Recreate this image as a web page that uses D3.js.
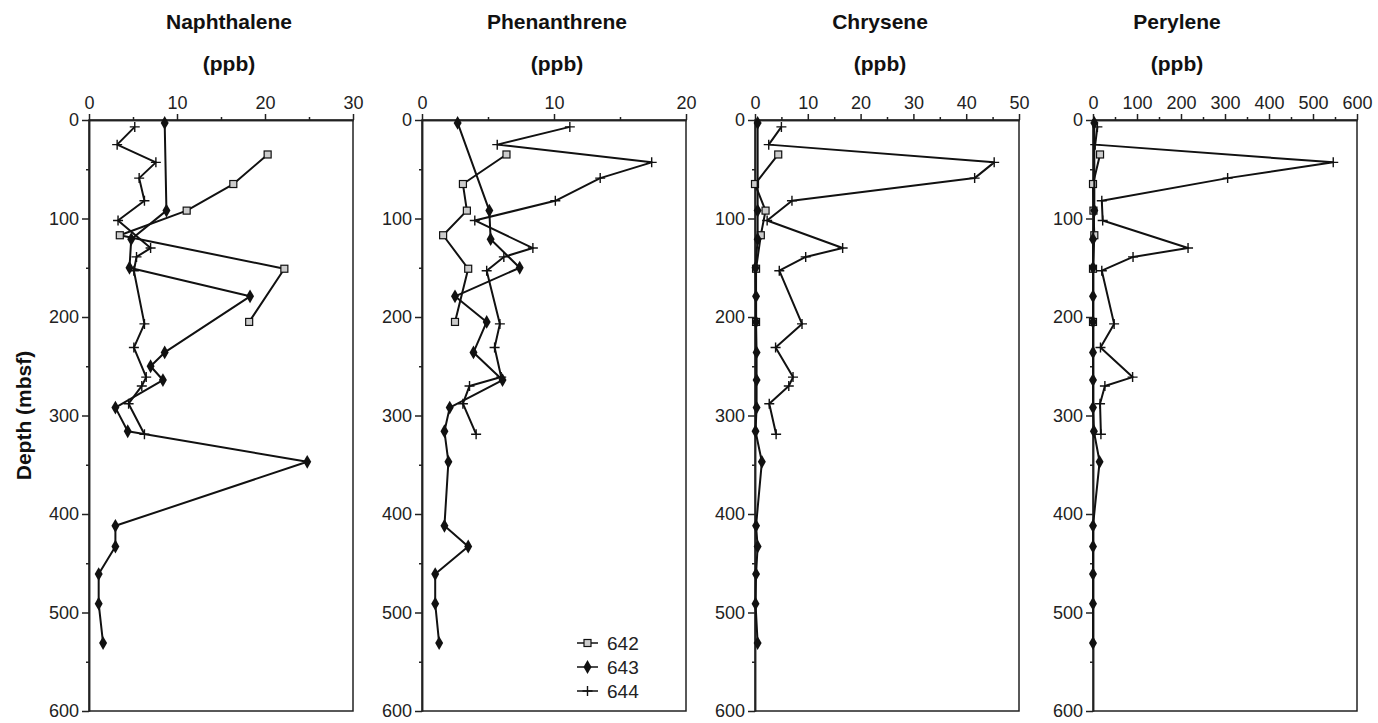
<!DOCTYPE html>
<html>
<head>
<meta charset="utf-8">
<script src="https://cdn.jsdelivr.net/npm/d3@7"></script>
<style>
  body { margin: 0; background: #fff; }
  svg { font-family: "Liberation Sans", Arial, Helvetica, sans-serif; }
  .axis text { font-size: 18px; fill: #222; }
  .axis path, .axis line { stroke: #222; stroke-width: 1.5; }
  .title { font-size: 21px; font-weight: bold; text-anchor: middle; fill: #111; }
</style>
</head>
<body>
<svg id="canvas" width="1378" height="723"></svg>
<script>
// sample depths (mbsf) for each site
const depth642 = [35, 65, 92, 117, 151, 205]
const depth643 = [3, 92, 121, 150, 179, 205, 236, 250, 264, 292, 316, 347, 412, 433, 461, 491, 531]
const depth644 = [7, 25, 43, 59, 82, 102, 130, 139, 153, 207, 231, 261, 270, 288, 319]

const sites = ['642', '643', '644']
const compounds = ['Naphthalene', 'Phenanthrene', 'Chrysene', 'Perylene']
const xMax = [30, 20, 50, 600]
const xStep = [10, 10, 10, 100]
const depthTicks = [0, 100, 200, 300, 400, 500, 600]

// concentrations (ppb), null = no sample drawn
const naph642 = [20.3, 16.4, 11.1, 3.5, 22.2, 18.2]
const naph643 = [8.6, 8.8, 4.8, 4.6, 18.3, null, 8.6, 7.0, 8.4, 3.0, 4.4, 24.8, 3.0, 3.0, 1.1, 1.1, 1.6]
const naph644 = [5.2, 3.2, 7.6, 5.7, 6.3, 3.3, 7.0, 5.4, 5.1, 6.3, 5.1, 6.5, 6.0, 4.5, 6.3]

const phen642 = [6.4, 3.1, 3.4, 1.6, 3.5, 2.5]
const phen643 = [2.7, 5.1, 5.2, 7.4, 2.5, 4.9, 3.9, null, 6.1, 2.1, 1.7, 2.0, 1.7, 3.5, 1.0, 1.0, 1.3]
const phen644 = [11.2, 5.7, 17.4, 13.5, 10.1, 4.0, 8.4, 6.2, 4.9, 5.9, 5.5, 6.0, 3.6, 3.1, 4.1]

const chry642 = [4.4, 0, 2.0, 1.1, 0.2, 0.2]
const chry643 = [0.5, 0.5, 0.5, 0.1, 0.2, 0.2, 0.3, null, 0.3, 0.3, 0.1, 1.3, 0.2, 0.5, 0.2, 0.1, 0.5]
const chry644 = [5.0, 2.6, 45.3, 41.6, 7.0, 2.3, 16.6, 9.6, 4.6, 8.9, 3.9, 7.2, 6.4, 2.7, 4.0]

const pery642 = [16, 0, 1, 3, 0, 0]
const pery643 = [3, 3, 0, 0, 0, 0, 0, null, 0, 0, 2, 15, 0, 0, 0, 0, 0]
const pery644 = [10, 5, 546, 306, 20, 22, 216, 91, 20, 48, 17, 90, 27, 16, 18]

const values = [
    [naph642, naph643, naph644],
    [phen642, phen643, phen644],
    [chry642, chry643, chry644],
    [pery642, pery643, pery644]
]
const depths = [depth642, depth643, depth644]

// layout
const panelLeft = [89, 422, 755, 1093]
const panelWidth = 264
const plotTop = 120
const plotBottom = 711
const titleX = [229, 557, 880, 1177]

let canvas = d3.select('#canvas')

let y = d3.scaleLinear().domain([0, 600]).range([plotTop, plotBottom])

let plusPath = 'M-5,0H5M0,-5V5'

let drawMarker = (g, site, px, py) => {
    if (site === '642') {
        g.append('rect')
            .attr('x', px - 3.5).attr('y', py - 3.5)
            .attr('width', 7).attr('height', 7)
            .attr('fill', '#ccc').attr('stroke', '#111').attr('stroke-width', 1.2)
    } else if (site === '643') {
        g.append('path')
            .attr('d', d3.symbol().type(d3.symbolDiamond).size(55)())
            .attr('transform', `translate(${px},${py})`)
            .attr('fill', '#111')
    } else {
        g.append('path')
            .attr('d', plusPath)
            .attr('transform', `translate(${px},${py})`)
            .attr('stroke', '#111').attr('stroke-width', 1.4)
    }
}

let drawPanel = (i) => {
    let left = panelLeft[i]
    let x = d3.scaleLinear().domain([0, xMax[i]]).range([left, left + panelWidth])
    let g = canvas.append('g')

    // titles
    g.append('text').attr('class', 'title').attr('x', titleX[i]).attr('y', 29).text(compounds[i])
    g.append('text').attr('class', 'title').attr('x', titleX[i]).attr('y', 71).text('(ppb)')

    // frame
    g.append('rect')
        .attr('x', left).attr('y', plotTop)
        .attr('width', panelWidth).attr('height', plotBottom - plotTop)
        .attr('fill', 'none').attr('stroke', '#222').attr('stroke-width', 1.5)

    // top axis
    let major = d3.range(0, xMax[i] + 1, xStep[i])
    let minor = d3.range(xStep[i] / 2, xMax[i], xStep[i])
    g.append('g').attr('class', 'axis')
        .attr('transform', `translate(0,${plotTop})`)
        .call(d3.axisTop(x).tickValues(major).tickSize(6).tickSizeOuter(0).tickPadding(5))
    g.append('g').attr('class', 'axis')
        .attr('transform', `translate(0,${plotTop})`)
        .call(d3.axisTop(x).tickValues(minor).tickSize(3).tickSizeOuter(0).tickFormat(''))

    // left axis
    g.append('g').attr('class', 'axis')
        .attr('transform', `translate(${left},0)`)
        .call(d3.axisLeft(y).tickValues(depthTicks).tickSize(7).tickSizeOuter(0).tickPadding(3))
    g.append('g').attr('class', 'axis')
        .attr('transform', `translate(${left},0)`)
        .call(d3.axisLeft(y).tickValues(d3.range(50, 600, 100)).tickSize(3).tickSizeOuter(0).tickFormat(''))

    // series
    sites.forEach((site, s) => {
        let pts = depths[s]
            .map((d, k) => ({ depth: d, value: values[i][s][k] }))
            .filter(p => p.value !== null)

        let line = d3.line()
            .x(p => x(p.value))
            .y(p => y(p.depth))

        g.append('path')
            .datum(pts)
            .attr('d', line)
            .attr('fill', 'none')
            .attr('stroke', '#111')
            .attr('stroke-width', 2)
            .attr('stroke-linejoin', 'round')

        pts.forEach(p => drawMarker(g, site, x(p.value), y(p.depth)))
    })
}

let drawLegend = () => {
    let g = canvas.append('g')
    sites.forEach((site, s) => {
        let ly = 643 + s * 24
        g.append('line')
            .attr('x1', 577).attr('x2', 598)
            .attr('y1', ly).attr('y2', ly)
            .attr('stroke', '#111').attr('stroke-width', 1.5)
        drawMarker(g, site, 587.5, ly)
        g.append('text')
            .attr('x', 607).attr('y', ly + 7)
            .attr('font-size', '19px')
            .attr('fill', '#222')
            .text(site)
    })
}

compounds.forEach((c, i) => drawPanel(i))
drawLegend()

canvas.append('text')
    .attr('class', 'title')
    .attr('transform', `translate(31,${(plotTop + plotBottom) / 2}) rotate(-90)`)
    .text('Depth (mbsf)')
</script>
</body>
</html>
